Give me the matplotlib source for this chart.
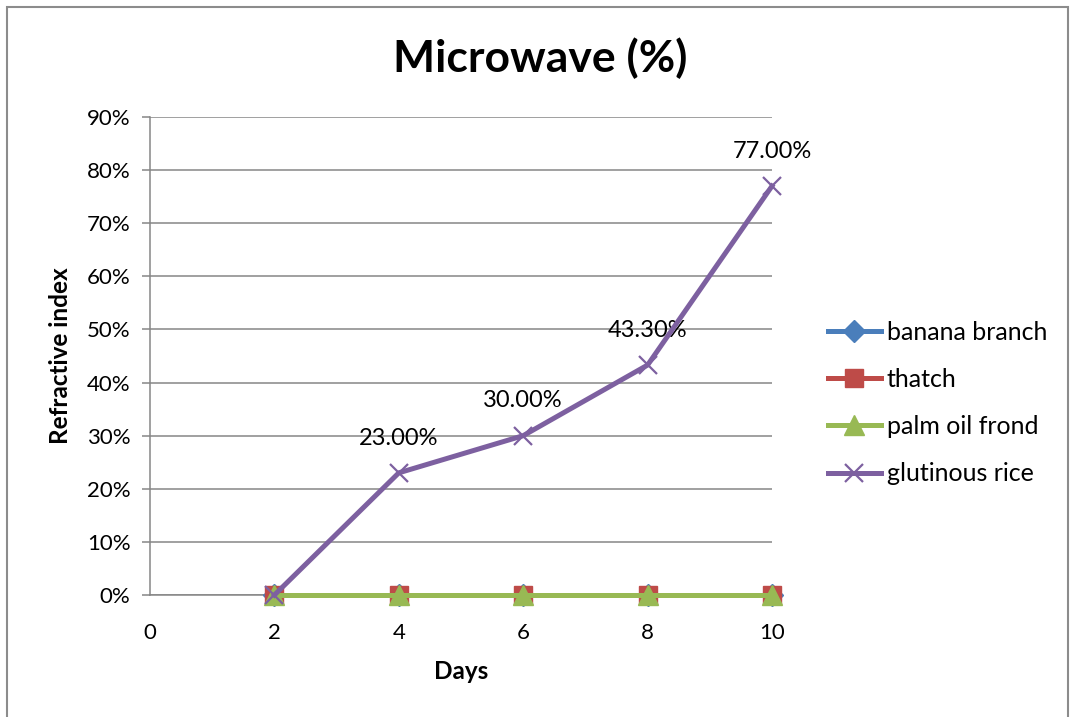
import matplotlib
matplotlib.use("Agg")
import matplotlib.pyplot as plt
from matplotlib.patches import Rectangle
from matplotlib.ticker import FuncFormatter, MultipleLocator

plt.rcParams['font.family'] = ['Lato', 'DejaVu Sans']

days = [2, 4, 6, 8, 10]
banana_branch = [0.0, 0.0, 0.0, 0.0, 0.0]
thatch = [0.0, 0.0, 0.0, 0.0, 0.0]
palm_oil_frond = [0.0, 0.0, 0.0, 0.0, 0.0]
glutinous_rice = [0.0, 23.0, 30.0, 43.3, 77.0]
rice_labels = [None, "23.00%", "30.00%", "43.30%", "77.00%"]

grid_col = "#868686"

fig = plt.figure(figsize=(10.74, 7.17), dpi=100)
ax = fig.add_axes([150 / 1074, 122 / 717, 622 / 1074, 478 / 717])

# outer chart frame
fig.patches.append(Rectangle((7 / 1074, -0.05), 1061 / 1074, 1.05 - 7 / 717,
                             transform=fig.transFigure, fill=False,
                             edgecolor="#8c8c8c", linewidth=1.5))

lw = 3.6
ax.plot(days, banana_branch, color="#4A7EBB", linewidth=lw, marker="D",
        markersize=11, label="banana branch", zorder=3, clip_on=False)
ax.plot(days, thatch, color="#BE4B48", linewidth=lw, marker="s",
        markersize=13.5, label="thatch", zorder=4, clip_on=False)
ax.plot(days, palm_oil_frond, color="#98B954", linewidth=lw, marker="^",
        markersize=14, label="palm oil frond", zorder=5, clip_on=False)
ax.plot(days, glutinous_rice, color="#7D60A0", linewidth=lw, marker="x",
        markersize=13.5, markeredgewidth=1.6, label="glutinous rice", zorder=6,
        clip_on=False)

for x, y, t in zip(days, glutinous_rice, rice_labels):
    if t:
        ax.annotate(t, (x, y), xytext=(0, 25), textcoords="offset points",
                    ha="center", va="center", fontsize=17, color="black")

ax.set_xlim(0, 10)
ax.set_ylim(0, 90)
ax.xaxis.set_major_locator(MultipleLocator(2))
ax.yaxis.set_major_locator(MultipleLocator(10))
ax.yaxis.set_major_formatter(FuncFormatter(lambda v, p: f"{v:.0f}%"))

ax.grid(axis="y", color=grid_col, linewidth=1.1)
ax.set_axisbelow(True)
for s in ("top", "right"):
    ax.spines[s].set_visible(False)
ax.spines["left"].set_color(grid_col)
ax.spines["bottom"].set_color(grid_col)
ax.spines["left"].set_linewidth(1.1)
ax.spines["bottom"].set_linewidth(1.1)
ax.tick_params(axis="y", direction="out", length=6, width=1.1, color=grid_col,
               labelsize=16, pad=8)
ax.tick_params(axis="x", direction="out", length=0, labelsize=16, pad=20)

ax.set_xlabel("Days", fontsize=17.5, fontweight="bold", labelpad=12.5)
ax.set_ylabel("Refractive index", fontsize=17.5, fontweight="bold", labelpad=11)
fig.text(540 / 1074, 1 - 58 / 717, "Microwave (%)", fontsize=32,
         fontweight="bold", ha="center", va="center")

leg = fig.legend(*ax.get_legend_handles_labels(), loc="center left",
                 bbox_to_anchor=(828 / 1074, 314 / 717), frameon=False,
                 fontsize=18, handlelength=2.1, handletextpad=0.25,
                 labelspacing=0.97, borderaxespad=0, borderpad=0)

fig.savefig("out.png", dpi=100, facecolor="white")
